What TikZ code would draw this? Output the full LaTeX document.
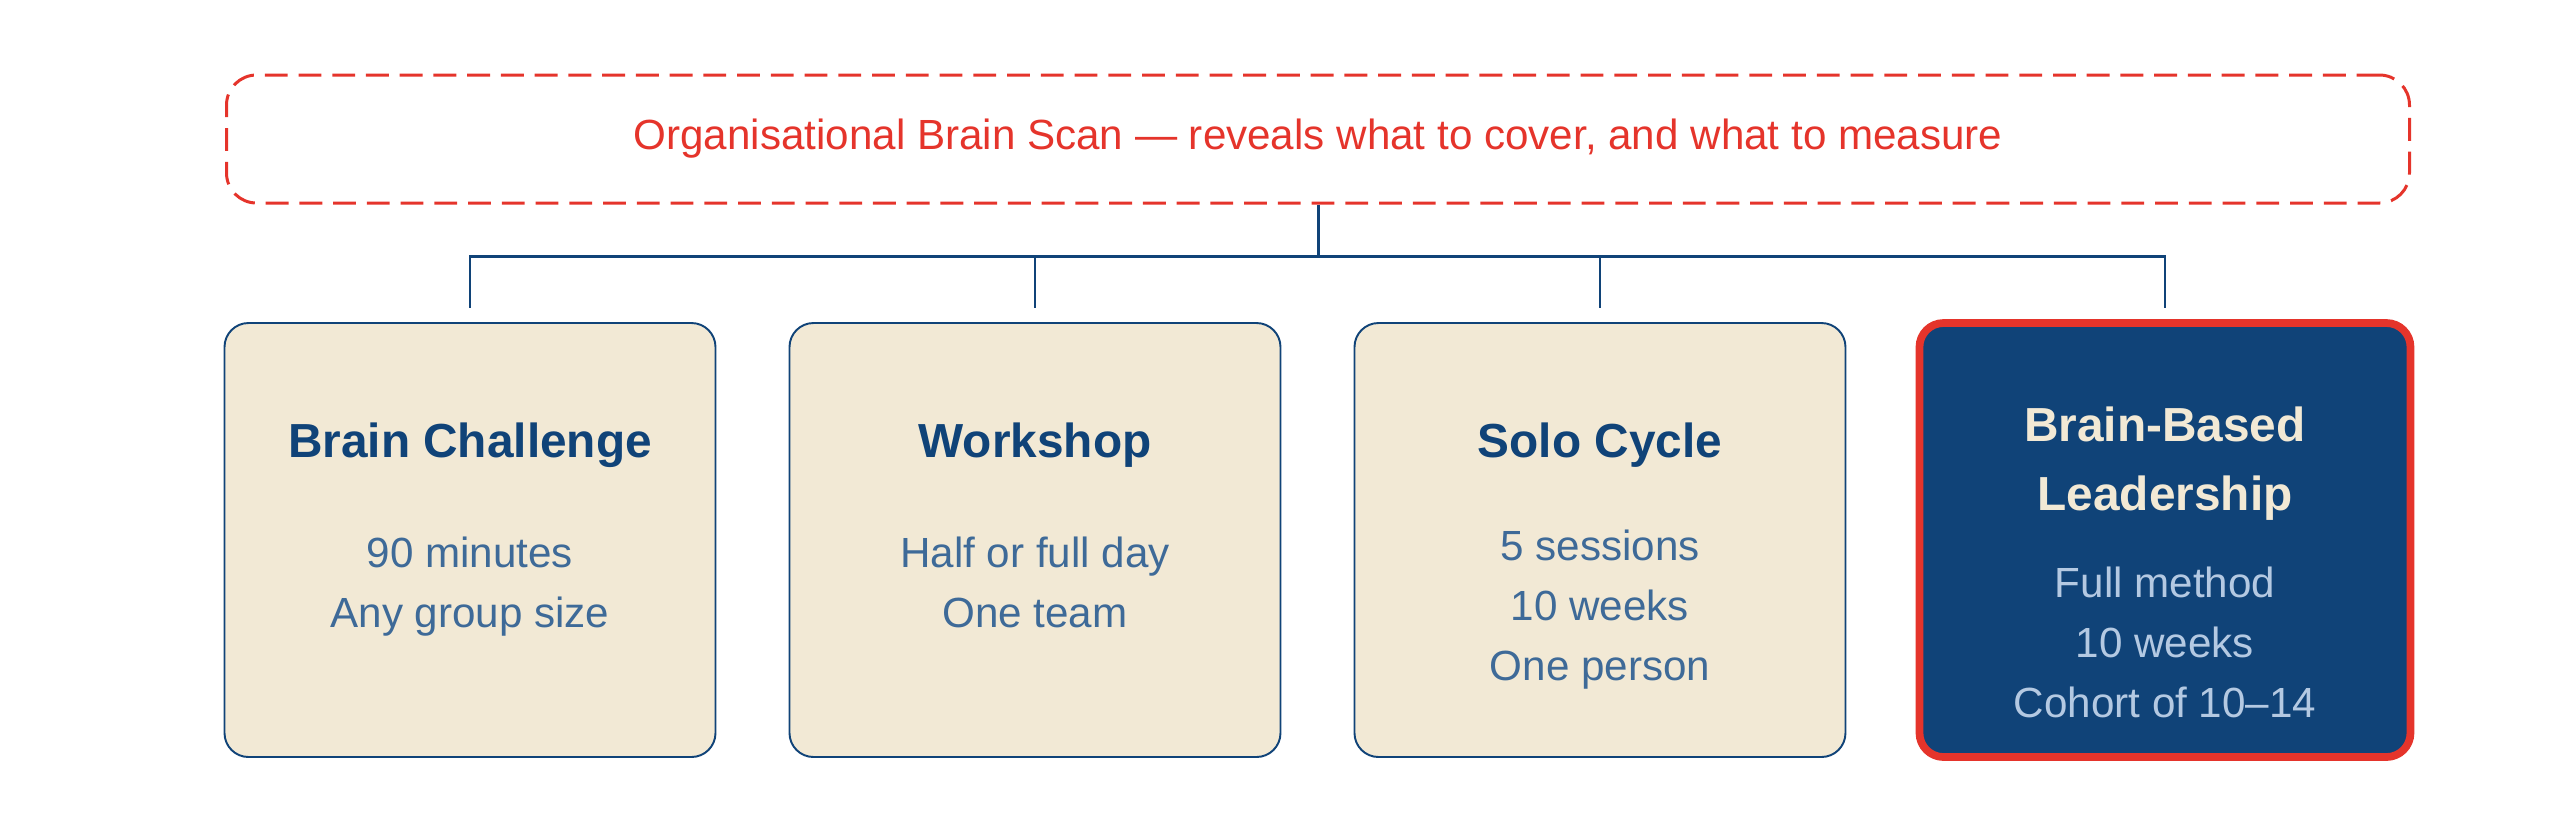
\documentclass[tikz,border=0pt]{standalone}
\usepackage{fontspec}
\setmainfont{Liberation Sans}
\usetikzlibrary{positioning}
\definecolor{scanred}{RGB}{229,52,43}
\definecolor{navy}{RGB}{16,67,120}
\definecolor{sand}{RGB}{242,233,213}
\definecolor{slate}{RGB}{62,106,152}
\definecolor{mist}{RGB}{180,201,226}
\tikzset{
  scanbox/.style={draw=scanred,line width=0.85pt,dash pattern=on 6.5pt off 3.1pt,rounded corners=3mm,
    minimum width=218.3mm,minimum height=12.8mm,text=scanred,font=\fontsize{12}{15}\selectfont},
  card/.style={draw=navy,line width=0.55pt,fill=sand,rounded corners=2.4mm,outer sep=0pt,
    minimum width=49.1mm,minimum height=43.4mm},
  keycard/.style={card,draw=scanred,line width=2.2pt,fill=navy},
  ctitle/.style={anchor=base,text=navy,align=center,inner sep=0pt,font=\bfseries\fontsize{13.6}{19.4}\selectfont},
  cbody/.style={anchor=base,text=slate,align=center,inner sep=0pt,font=\fontsize{12}{17.07}\selectfont},
  link/.style={draw=navy,line width=0.85pt},
}

\begin{document}
\begin{tikzpicture}[x=0.1mm,y=-0.1mm,node distance=7.4mm]
  \useasboundingbox (0,0) rectangle (2560,832);
  \node[scanbox] (scan) at (1318,139) {Organisational Brain Scan — reveals what to cover, and what to measure};
  \node[card] (c1) at (470,540) {};
  \node[card,right=of c1] (c2) {};
  \node[card,right=of c2] (c3) {};
  \node[keycard,right=of c3] (c4) {};
  % titles and details (base = last line)
  \node[ctitle] (t1) at ([yshift=8.3mm]c1.center) {Brain Challenge};
  \node[cbody] (d1) at ([yshift=-8.7mm]c1.center) {90 minutes\\Any group size};
  \node[ctitle] (t2) at ([yshift=8.3mm]c2.center) {Workshop};
  \node[cbody] (d2) at ([yshift=-8.7mm]c2.center) {Half or full day\\One team};
  \node[ctitle] (t3) at ([yshift=8.3mm]c3.center) {Solo Cycle};
  \node[cbody] (d3) at ([yshift=-14mm]c3.center) {5 sessions\\10 weeks\\One person};
  \node[ctitle,text=sand] (t4) at ([yshift=3mm]c4.center) {Brain-Based\\Leadership};
  \node[cbody,text=mist] (d4) at ([yshift=-17.7mm]c4.center) {Full method\\10 weeks\\Cohort of 10–14};
  % tree
  \coordinate (hub) at (1318,256);
  \draw[link] (scan) -- (hub);
  \foreach \c in {c1,c2,c3,c4}
    \draw[link,shorten >=1.5mm] (hub) -| (\c.north);
\end{tikzpicture}
\end{document}
